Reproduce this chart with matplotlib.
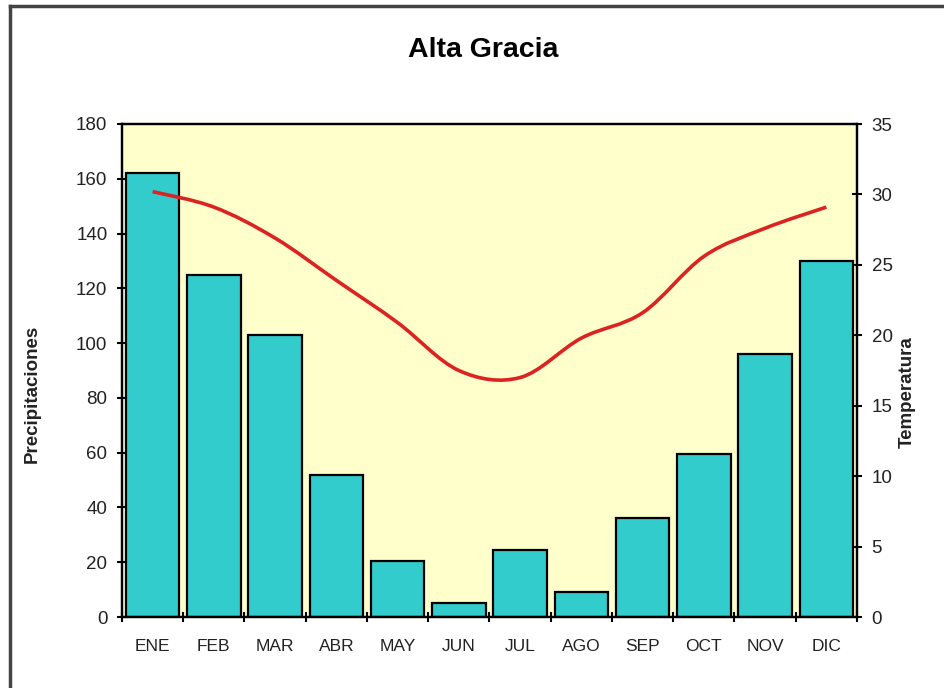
import numpy as np
import matplotlib
matplotlib.use('Agg')
import matplotlib.pyplot as plt
from matplotlib.path import Path
from matplotlib.patches import PathPatch
from matplotlib.lines import Line2D

# datos climaticos Alta Gracia
meses = ['ENE', 'FEB', 'MAR', 'ABR', 'MAY', 'JUN', 'JUL', 'AGO', 'SEP', 'OCT', 'NOV', 'DIC']
precip = [162, 125, 103, 52, 20.5, 5, 24.5, 9, 36, 59.5, 96, 130]
temp = [30.2, 29.1, 26.9, 23.9, 20.9, 17.5, 17.0, 19.8, 21.6, 25.6, 27.6, 29.1]
yticks_p = [0, 20, 40, 60, 80, 100, 120, 140, 160, 180]
yticks_t = [0, 5, 10, 15, 20, 25, 30, 35]

plt.rcParams['font.family'] = ['Liberation Sans', 'DejaVu Sans']

fig = plt.figure(figsize=(9.45, 6.88), dpi=100)
ax = fig.add_axes([122/945, 1-617/688, (857-122)/945, (617-124)/688])
ax.set_facecolor('#FFFFCC')

x = np.arange(len(meses))
ax.bar(x, precip, width=0.87, color='#33CCCC', edgecolor='black', linewidth=1.6, zorder=2)
ax.set_xlim(-0.5, 11.5)
ax.set_ylim(0, 180)
ax.set_yticks(yticks_p)
ax.tick_params(axis='y', direction='inout', length=7, width=1.5, labelsize=13.5, pad=7, labelcolor='#222222')
ax.set_xticks(x)
ax.set_xticklabels(meses)
ax.tick_params(axis='x', which='major', length=0, pad=16, labelsize=12.5, labelcolor='#222222')
ax.set_xticks(np.arange(-0.5, 12, 1), minor=True)
ax.tick_params(axis='x', which='minor', direction='inout', length=7, width=1.5)
for s in ax.spines.values():
    s.set_linewidth(1.6)

ax2 = ax.twinx()
ax2.set_ylim(0, 35)
ax2.set_yticks(yticks_t)
ax2.tick_params(axis='y', direction='inout', length=7, width=1.5, labelsize=13.5, pad=7, labelcolor='#222222')
for s in ax2.spines.values():
    s.set_linewidth(1.6)

# linea suavizada (estilo excel) con curvas bezier
pts = np.column_stack([x, temp]).astype(float)
verts = [tuple(pts[0])]
codes = [Path.MOVETO]
n = len(pts)
for i in range(n - 1):
    p0 = pts[max(i - 1, 0)]
    p1 = pts[i]
    p2 = pts[i + 1]
    p3 = pts[min(i + 2, n - 1)]
    c1 = p1 + (p2 - p0) / 6
    c2 = p2 - (p3 - p1) / 6
    verts += [tuple(c1), tuple(c2), tuple(p2)]
    codes += [Path.CURVE4] * 3
ax2.add_patch(PathPatch(Path(verts, codes), facecolor='none', edgecolor='#DD2222', linewidth=2.6, zorder=3))

fig.text(0.511, 1-50/688, 'Alta Gracia', ha='center', va='center', fontsize=20.5, fontweight='bold')
fig.text(32/945, 1-394/688, 'Precipitaciones', rotation=90, ha='center', va='center', fontsize=13.5, fontweight='bold', color='#222222')
fig.text(907/945, 1-392/688, 'Temperatura', rotation=90, ha='center', va='center', fontsize=13.5, fontweight='bold', color='#222222')

# marco de la figura
fig.add_artist(Line2D([10/945, 10/945], [0, 1-6/688], transform=fig.transFigure, color='#444444', linewidth=2.5))
fig.add_artist(Line2D([10/945, 1], [1-6/688, 1-6/688], transform=fig.transFigure, color='#444444', linewidth=2.5))

fig.savefig('out.png', dpi=100)
